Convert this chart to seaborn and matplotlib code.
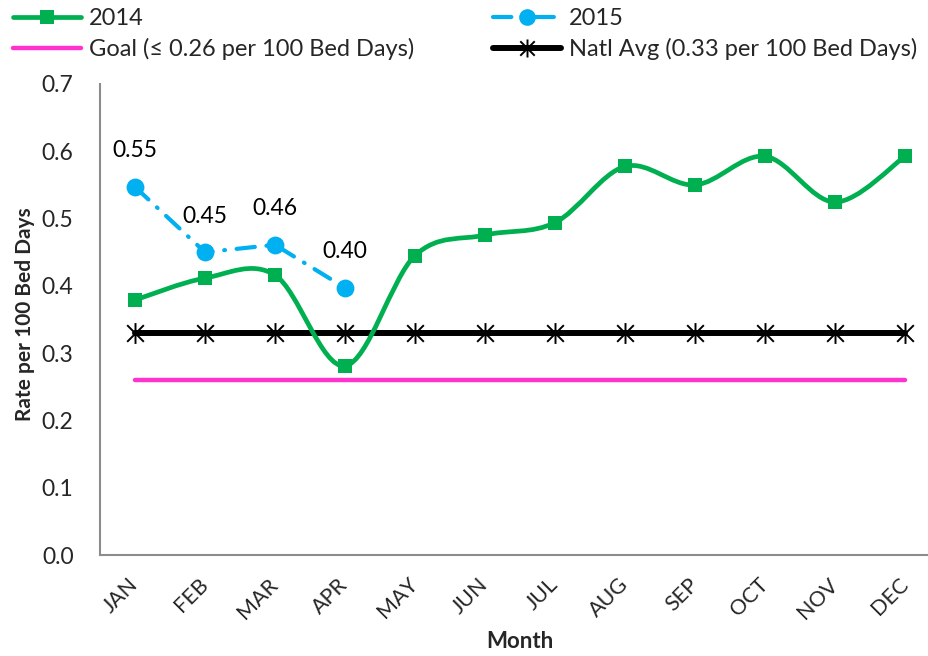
import numpy as np
import pandas as pd
import matplotlib
matplotlib.use("Agg")
import matplotlib.pyplot as plt
import matplotlib.transforms as mtransforms
import seaborn as sns
from matplotlib.path import Path
from matplotlib.patches import PathPatch
from matplotlib.lines import Line2D

# ---- data -------------------------------------------------------------
months = ["JAN", "FEB", "MAR", "APR", "MAY", "JUN",
          "JUL", "AUG", "SEP", "OCT", "NOV", "DEC"]
rate_2014 = [0.379, 0.4115, 0.416, 0.281, 0.445, 0.4755,
             0.494, 0.5775, 0.550, 0.5925, 0.5245, 0.5925]
rate_2015 = [0.547, 0.450, 0.461, 0.397]
goal_rate = 0.26
natl_avg_rate = 0.33
y_ticks = [0.0, 0.1, 0.2, 0.3, 0.4, 0.5, 0.6, 0.7]

GREEN = "#00B050"
BLUE = "#00B0F0"
PINK = "#FF33CC"
AXIS_GREY = "#8C8C8C"

sns.set_theme(style="white")
plt.rcParams["font.family"] = ["Lato", "DejaVu Sans"]

x_idx = np.arange(len(months))
df14 = pd.DataFrame({"x": x_idx, "rate": rate_2014})
df15 = pd.DataFrame({"x": x_idx[:len(rate_2015)], "rate": rate_2015})
df_ref = pd.DataFrame({"x": x_idx,
                       "goal": [goal_rate] * len(months),
                       "natl": [natl_avg_rate] * len(months)})

W, H = 929, 656
fig = plt.figure(figsize=(W / 100, H / 100), dpi=100)
ax = fig.add_axes([100 / W, 101 / H, 840 / W, 471 / H])

# asterisk marker: one vertical stroke plus an X
star = Path([(0, -1), (0, 1), (-0.8, -0.8), (0.8, 0.8), (-0.8, 0.8), (0.8, -0.8)],
            [Path.MOVETO, Path.LINETO] * 3)

# goal line
sns.lineplot(data=df_ref, x="x", y="goal", ax=ax, color=PINK, lw=3.2,
             legend=False, zorder=2, solid_capstyle="round")
# national average with asterisk markers
sns.lineplot(data=df_ref, x="x", y="natl", ax=ax, color="black", lw=4.3,
             marker=star, markersize=15, markeredgewidth=1.4,
             markeredgecolor="black", legend=False, zorder=3)

# 2014 smoothed curve (Catmull-Rom through the monthly values, as Bezier segments)
pts = np.column_stack([x_idx, rate_2014]).astype(float)
verts = [tuple(pts[0])]
codes = [Path.MOVETO]
n = len(pts)
for i in range(n - 1):
    p0 = pts[max(i - 1, 0)]
    p1 = pts[i]
    p2 = pts[i + 1]
    p3 = pts[min(i + 2, n - 1)]
    c1 = p1 + (p2 - p0) / 6.0
    c2 = p2 - (p3 - p1) / 6.0
    verts += [tuple(c1), tuple(c2), tuple(p2)]
    codes += [Path.CURVE4] * 3
ax.add_patch(PathPatch(Path(verts, codes), facecolor="none", edgecolor=GREEN,
                       lw=3.4, zorder=4, capstyle="round", joinstyle="round"))
sns.scatterplot(data=df14, x="x", y="rate", ax=ax, marker="s", s=115,
                color=GREEN, edgecolor=GREEN, linewidth=0, zorder=5, legend=False)

# 2015 round-dot/dash line
dash_pattern = (4.4, 2.8, 0.2, 2.8)
sns.lineplot(data=df15, x="x", y="rate", ax=ax, color=BLUE, lw=3.0,
             dashes=False, legend=False, zorder=6)
ax.lines[-1].set_dashes(dash_pattern)
ax.lines[-1].set_dash_capstyle("round")
sns.scatterplot(data=df15, x="x", y="rate", ax=ax, marker="o", s=165,
                color=BLUE, edgecolor=BLUE, linewidth=0, zorder=7, legend=False)
for xi, v in zip(df15["x"], df15["rate"]):
    ax.annotate(f"{v:.2f}", (xi, v), xytext=(0, 26), textcoords="offset points",
                ha="center", va="center", fontsize=16.5, color="black", zorder=8)

# ---- axes -------------------------------------------------------------
ax.set_xlim(-0.5, len(months) - 0.5)
ax.set_ylim(0, 0.7)
ax.set_yticks(y_ticks)
ax.set_yticklabels([f"{t:.1f}" for t in y_ticks], fontsize=16.5)
ax.set_xticks(x_idx)
ax.set_xticklabels(months, fontsize=15.5, rotation=45, ha="right",
                   va="center", rotation_mode="anchor")
shift = mtransforms.ScaledTranslation(6 / 100, 0, fig.dpi_scale_trans)
for lbl in ax.get_xticklabels():
    lbl.set_transform(lbl.get_transform() + shift)
ax.set_xticks(np.arange(-0.5, len(months), 1.0), minor=True)
ax.tick_params(axis="x", which="major", length=0, pad=19)
ax.tick_params(axis="x", which="minor", length=6, width=1.3, color=AXIS_GREY,
               direction="out")
ax.tick_params(axis="y", length=6, width=1.3, color=AXIS_GREY, direction="out",
               pad=13)
for side in ("top", "right"):
    ax.spines[side].set_visible(False)
for side in ("left", "bottom"):
    ax.spines[side].set_color(AXIS_GREY)
    ax.spines[side].set_linewidth(1.5)
ax.set_xlabel("Month", fontsize=16, fontweight="bold")
ax.set_ylabel("Rate per 100 Bed Days", fontsize=15, fontweight="bold")
ax.xaxis.set_label_coords((520 - 100) / 840, (555 - 641) / 471)
ax.yaxis.set_label_coords((25 - 100) / 840, (555 - 314) / 471)
ax.xaxis.label.set_va("center")
ax.yaxis.label.set_va("center")

# ---- legend (two columns, placed separately) --------------------------
handles_left = [
    Line2D([], [], color=GREEN, lw=3.4, marker="s", markersize=10,
           markeredgewidth=0),
    Line2D([], [], color=PINK, lw=3.2),
]
handles_right = [
    Line2D([], [], color=BLUE, lw=3.0, dashes=dash_pattern,
           dash_capstyle="round", marker="o", markersize=12,
           markeredgewidth=0),
    Line2D([], [], color="black", lw=4.3, marker=star, markersize=13,
           markeredgewidth=1.4),
]
labels_left = ["2014", "Goal (\u2264 0.26 per 100 Bed Days)"]
labels_right = ["2015", "Natl Avg (0.33 per 100 Bed Days)"]
leg_kw = dict(loc="upper left", frameon=False, fontsize=17,
              handlelength=2.9, handletextpad=0.32, labelspacing=0.38,
              borderaxespad=0.0, borderpad=0.0)
fig.legend(handles_left, labels_left, bbox_to_anchor=(13 / W, (H - 8) / H),
           **leg_kw)
fig.legend(handles_right, labels_right, bbox_to_anchor=(493 / W, (H - 8) / H),
           **leg_kw)

fig.savefig("out.png", dpi=100)
